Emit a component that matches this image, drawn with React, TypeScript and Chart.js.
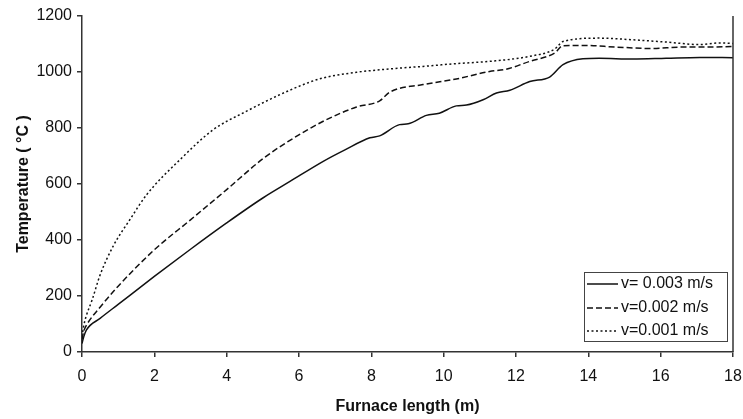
import React, { useEffect, useRef } from "react";
import { Chart, registerables } from "chart.js";

Chart.register(...registerables);

const seriesLabels = ["v= 0.003 m/s", "v=0.002 m/s", "v=0.001 m/s"];

const x003 = [0, 0.05, 0.12, 0.5, 1, 2, 3, 4, 5, 5.75, 6.67, 7.27, 7.96, 8.23, 8.78, 9.02, 9.52, 9.88, 10.35, 10.63, 11.09, 11.46, 11.83, 12.38, 12.93, 13.3, 13.85, 14.3, 15.23, 16.15, 17.08, 18];
const t003 = [30, 55, 78, 120, 170, 270, 367, 461, 550, 609, 681, 722, 765, 772, 812, 815, 845, 853, 879, 882, 901, 925, 935, 966, 982, 1026, 1047, 1049, 1046, 1049, 1052, 1051];

const x002 = [0, 0.05, 0.12, 0.5, 1, 2, 3, 4, 5, 5.75, 6.67, 7.59, 8.23, 8.51, 9.43, 10.35, 11.27, 11.73, 12.38, 13.07, 13.3, 13.85, 14.78, 15.7, 16.62, 17.2, 18];
const t002 = [45, 75, 95, 160, 235, 365, 472, 580, 690, 756, 824, 875, 897, 928, 955, 975, 1002, 1010, 1038, 1068, 1094, 1095, 1089, 1084, 1089, 1089, 1091];

const x001 = [0, 0.05, 0.12, 0.28, 0.5, 0.87, 1.33, 1.79, 2.71, 3.63, 4.55, 5.47, 6.3, 6.67, 7.59, 8.51, 9.43, 10.35, 11.27, 12.38, 13.07, 13.3, 14.3, 15.23, 16.15, 17.08, 17.63, 18];
const t001 = [55, 95, 130, 186, 275, 380, 474, 562, 687, 794, 860, 919, 964, 979, 999, 1011, 1020, 1030, 1038, 1056, 1082, 1109, 1121, 1115, 1107, 1098, 1104, 1102];

const xTitle = "Furnace length (m)";
const yTitle = "Temperature ( °C )";

const FONT = "'Liberation Sans', Arial, sans-serif";
const AXIS_COLOR = "#333";

const toPoints = (xs: number[], ys: number[]) => xs.map((x, i) => ({ x, y: ys[i] }));

const frameAndLegend = {
  id: "frameAndLegend",
  afterDraw(chart: any) {
    const { ctx, chartArea } = chart;
    ctx.save();
    ctx.strokeStyle = AXIS_COLOR;
    ctx.lineWidth = 1.5;
    ctx.beginPath();
    ctx.moveTo(chartArea.right, chartArea.top);
    ctx.lineTo(chartArea.right, chartArea.bottom);
    ctx.stroke();

    const bx = 584, by = 272, bw = 143, bh = 69;
    ctx.fillStyle = "#fff";
    ctx.fillRect(bx, by, bw, bh);
    ctx.strokeStyle = "#444";
    ctx.lineWidth = 1;
    ctx.strokeRect(bx + 0.5, by + 0.5, bw, bh);
    const rows = [284, 308, 331];
    chart.data.datasets.forEach((ds: any, i: number) => {
      const y = rows[i];
      ctx.strokeStyle = ds.borderColor;
      ctx.lineWidth = ds.borderWidth;
      ctx.setLineDash(ds.borderDash || []);
      ctx.beginPath();
      ctx.moveTo(587, y);
      ctx.lineTo(618, y);
      ctx.stroke();
      ctx.setLineDash([]);
      ctx.fillStyle = "#111";
      ctx.font = `16px ${FONT}`;
      ctx.textBaseline = "middle";
      ctx.textAlign = "left";
      ctx.fillText(ds.label, 621, y);
    });
    ctx.restore();
  },
};

export default function App() {
  const ref = useRef<HTMLCanvasElement>(null);

  useEffect(() => {
    if (!ref.current) return;
    const chart = new Chart(ref.current, {
      type: "line",
      data: {
        datasets: [
          {
            label: seriesLabels[0],
            data: toPoints(x003, t003),
            borderColor: "#111",
            borderWidth: 1.5,
            borderDash: [],
            pointRadius: 0,
            cubicInterpolationMode: "monotone",
          },
          {
            label: seriesLabels[1],
            data: toPoints(x002, t002),
            borderColor: "#111",
            borderWidth: 1.5,
            borderDash: [6, 3],
            pointRadius: 0,
            cubicInterpolationMode: "monotone",
          },
          {
            label: seriesLabels[2],
            data: toPoints(x001, t001),
            borderColor: "#111",
            borderWidth: 1.5,
            borderDash: [2, 2.5],
            pointRadius: 0,
            cubicInterpolationMode: "monotone",
          },
        ],
      },
      options: {
        responsive: false,
        animation: false,
        layout: { padding: { top: 16, right: 10, left: 0, bottom: 0 } },
        plugins: {
          legend: { display: false },
          tooltip: { enabled: false },
        },
        scales: {
          x: {
            type: "linear",
            min: 0,
            max: 18,
            ticks: {
              stepSize: 2,
              color: "#111",
              padding: 10,
              font: { family: FONT, size: 16 },
              callback: (v: any) => String(v),
            },
            grid: {
              drawOnChartArea: false,
              tickLength: 5,
              color: AXIS_COLOR,
              lineWidth: 1.5,
            },
            border: { color: AXIS_COLOR, width: 1.5 },
            title: {
              display: true,
              text: xTitle,
              color: "#111",
              font: { family: FONT, size: 16, weight: "bold" },
              padding: { top: 0, bottom: 3 },
            },
            afterFit: (s: any) => {
              s.height = 67;
              s.paddingLeft = 0;
              s.paddingRight = 0;
            },
          },
          y: {
            min: 0,
            max: 1200,
            ticks: {
              stepSize: 200,
              color: "#111",
              padding: 5,
              font: { family: FONT, size: 16 },
              callback: (v: any) => String(v),
            },
            grid: {
              drawOnChartArea: false,
              tickLength: 5,
              color: AXIS_COLOR,
              lineWidth: 1.5,
            },
            border: { color: AXIS_COLOR, width: 1.5 },
            title: {
              display: true,
              text: yTitle,
              color: "#111",
              font: { family: FONT, size: 16, weight: "bold" },
              padding: { top: 14, bottom: 0 },
            },
            afterFit: (s: any) => {
              s.width = 82;
              s.paddingTop = 0;
              s.paddingBottom = 0;
            },
          },
        },
      },
      plugins: [frameAndLegend],
    } as any);
    return () => chart.destroy();
  }, []);

  return (
    <div style={{ position: "fixed", left: 0, top: 0, width: 743, height: 419, background: "#fff" }}>
      <canvas ref={ref} width={743} height={419} />
    </div>
  );
}
